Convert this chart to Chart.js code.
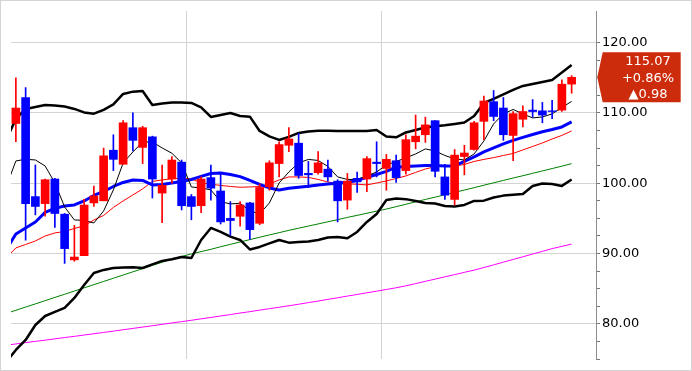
<!DOCTYPE html>
<html>
<head>
<meta charset="utf-8">
<script src="https://cdn.jsdelivr.net/npm/chart.js@4/dist/chart.umd.min.js"></script>
<style>
  html, body { margin: 0; padding: 0; background: #fff; }
  canvas { display: block; }
</style>
</head>
<body>
<canvas id="price-chart" width="692" height="371"></canvas>
<script>
// ============================================================
//  daily candles + bollinger band + moving averages
// ============================================================

// one leading slot (only the indicator lines, clipped at the left edge),
// 58 trading sessions, two empty slots before the price axis
const sessions = [
  'd00','d01','d02','d03','d04','d05','d06','d07','d08','d09',
  'd10','d11','d12','d13','d14','d15','d16','d17','d18','d19',
  'd20','d21','d22','d23','d24','d25','d26','d27','d28','d29',
  'd30','d31','d32','d33','d34','d35','d36','d37','d38','d39',
  'd40','d41','d42','d43','d44','d45','d46','d47','d48','d49',
  'd50','d51','d52','d53','d54','d55','d56','d57','d58','d59','d60'
];

const opens  = [108.5, 112.2, 98.1, 97.1, 100.6, 95.6, 89.1, 89.7, 97.2, 97.5, 104.7, 102.7, 107.9, 105.1, 106.6, 98.6, 100.6, 103.0, 98.1, 96.8, 100.8, 98.9, 95.0, 95.3, 97.2, 94.3, 99.5, 102.8, 105.4, 105.7, 101.4, 101.5, 102.0, 100.3, 97.6, 100.7, 100.6, 103.0, 102.1, 103.2, 101.8, 105.9, 106.9, 108.9, 100.9, 97.7, 103.8, 104.8, 108.8, 111.6, 110.7, 106.8, 109.1, 110.4, 110.3, 110.3, 110.4, 114.1];
const highs  = [115.0, 113.6, 102.6, 100.6, 100.7, 95.7, 94.0, 97.7, 99.6, 105.0, 106.9, 108.9, 110.0, 108.1, 106.7, 102.6, 103.8, 103.3, 98.4, 100.9, 102.6, 101.4, 97.4, 97.4, 97.3, 99.9, 103.2, 105.9, 107.9, 107.1, 103.1, 104.5, 103.3, 100.5, 101.4, 101.6, 103.8, 105.9, 104.1, 104.0, 106.9, 109.7, 109.4, 108.9, 102.7, 104.8, 105.4, 108.8, 112.4, 113.2, 112.2, 110.2, 111.0, 111.9, 111.5, 111.8, 114.7, 115.3];
const lows   = [105.9, 91.9, 95.5, 95.3, 93.7, 88.6, 88.9, 89.7, 96.7, 97.5, 101.8, 102.7, 104.6, 102.8, 97.9, 94.4, 100.0, 96.2, 94.8, 95.8, 97.6, 94.2, 92.6, 93.9, 92.0, 94.1, 99.0, 100.9, 104.5, 100.7, 99.4, 101.3, 100.3, 94.5, 96.3, 98.7, 98.8, 100.9, 99.0, 100.1, 101.3, 104.9, 105.8, 100.9, 97.7, 96.9, 101.2, 104.7, 106.2, 108.9, 106.1, 103.2, 108.0, 109.4, 108.6, 109.2, 110.2, 112.8];
const closes = [110.7, 97.1, 96.7, 100.5, 95.7, 90.7, 89.5, 96.9, 98.2, 103.9, 103.4, 108.6, 106.1, 107.9, 100.6, 99.7, 103.3, 96.8, 96.7, 100.6, 99.3, 94.5, 94.7, 96.9, 93.4, 99.4, 102.9, 105.5, 106.3, 101.1, 101.2, 102.9, 100.9, 97.5, 100.3, 100.2, 103.5, 102.8, 103.4, 100.8, 106.2, 106.7, 108.3, 101.7, 98.3, 104.0, 104.3, 108.6, 111.7, 109.5, 106.9, 109.9, 110.2, 110.2, 109.7, 110.2, 114.09, 115.07];

// indicator lines: first value sits in the leading slot
const bollUpper = [106.16, 109.15, 110.57, 110.85, 111.14, 111.07, 110.92, 110.57, 110.07, 109.90, 110.43, 111.21, 112.70, 113.03, 113.13, 111.14, 111.35, 111.49, 111.49, 111.42, 110.78, 109.43, 109.72, 110.00, 109.57, 109.47, 107.44, 106.66, 106.16, 106.59, 107.16, 107.37, 107.48, 107.47, 107.44, 107.44, 107.44, 107.44, 107.58, 106.66, 106.54, 107.23, 107.58, 107.94, 108.11, 108.25, 108.44, 108.65, 109.57, 111.42, 111.99, 112.63, 113.27, 113.84, 114.13, 114.41, 114.69, 115.76, 116.83];
const bollLower = [74.58, 76.29, 77.71, 79.84, 81.12, 81.69, 82.26, 83.68, 85.53, 87.24, 87.67, 87.95, 88.02, 88.05, 87.95, 88.45, 88.95, 89.19, 89.52, 89.37, 91.93, 93.64, 93.07, 92.40, 91.93, 90.58, 90.94, 91.44, 91.93, 91.55, 91.65, 91.72, 91.93, 92.29, 92.36, 92.18, 93.07, 94.49, 95.63, 97.62, 97.84, 97.74, 97.48, 97.20, 97.13, 96.77, 96.70, 96.91, 97.48, 97.52, 97.98, 98.24, 98.38, 98.48, 99.62, 99.97, 99.90, 99.62, 100.54];
const ma5   = [99.47, 103.17, 103.41, 103.31, 102.46, 100.04, 96.63, 94.78, 94.71, 94.35, 96.06, 99.05, 102.89, 104.45, 105.87, 105.87, 105.02, 104.27, 102.89, 99.47, 99.33, 99.05, 97.38, 97.06, 97.15, 96.06, 95.63, 97.20, 100.04, 101.61, 102.89, 103.39, 103.24, 102.39, 100.90, 100.54, 100.54, 101.04, 101.61, 102.60, 103.10, 103.60, 104.17, 104.88, 104.59, 103.95, 103.46, 103.31, 104.17, 106.02, 108.44, 109.86, 110.50, 109.86, 109.29, 109.43, 109.86, 110.78, 111.64];
const ma20  = [90.51, 92.79, 93.64, 94.49, 95.85, 96.42, 96.77, 96.91, 97.48, 98.26, 98.83, 99.54, 100.11, 100.47, 100.40, 99.76, 99.83, 100.04, 100.26, 100.54, 100.97, 101.39, 101.47, 101.25, 100.94, 100.40, 99.83, 99.33, 99.05, 99.30, 99.43, 99.57, 99.76, 99.90, 100.01, 100.14, 100.40, 100.85, 101.25, 101.68, 102.29, 102.39, 102.46, 102.53, 102.53, 102.46, 102.46, 103.10, 103.74, 104.45, 105.02, 105.59, 106.09, 106.52, 106.94, 107.33, 107.65, 108.01, 108.72];
const ma30  = [89.37, 90.80, 91.29, 91.79, 92.50, 92.93, 93.14, 93.57, 93.93, 94.78, 95.42, 96.56, 97.48, 98.34, 99.19, 100.26, 100.47, 100.65, 100.71, 100.61, 100.07, 99.86, 99.69, 99.54, 99.43, 99.47, 99.54, 99.90, 100.47, 100.90, 100.90, 100.83, 100.54, 100.18, 99.96, 99.90, 99.86, 99.76, 100.04, 100.33, 100.68, 101.04, 101.54, 102.03, 102.35, 102.43, 102.46, 102.67, 103.10, 103.39, 103.64, 103.95, 104.24, 104.74, 105.23, 105.73, 106.30, 106.80, 107.44];
const ma60  = [81.48, 81.93, 82.39, 82.84, 83.30, 83.76, 84.21, 84.67, 85.12, 85.58, 86.03, 86.49, 86.94, 87.40, 87.85, 88.31, 88.76, 89.23, 89.59, 89.94, 90.28, 90.60, 90.97, 91.31, 91.65, 91.98, 92.32, 92.65, 92.97, 93.30, 93.61, 93.91, 94.21, 94.52, 94.82, 95.14, 95.43, 95.73, 96.03, 96.33, 96.67, 97.01, 97.35, 97.70, 98.02, 98.36, 98.71, 99.03, 99.37, 99.72, 100.06, 100.40, 100.74, 101.07, 101.41, 101.75, 102.09, 102.43, 102.79];
const ma120 = [76.97, 77.14, 77.33, 77.51, 77.68, 77.87, 78.05, 78.22, 78.41, 78.59, 78.78, 78.96, 79.16, 79.35, 79.54, 79.73, 79.93, 80.13, 80.31, 80.51, 80.71, 80.91, 81.12, 81.32, 81.54, 81.73, 81.95, 82.16, 82.36, 82.57, 82.79, 83.02, 83.24, 83.48, 83.71, 83.95, 84.18, 84.42, 84.65, 84.89, 85.13, 85.41, 85.72, 86.05, 86.36, 86.69, 87.00, 87.33, 87.64, 88.01, 88.39, 88.78, 89.16, 89.54, 89.93, 90.31, 90.70, 91.02, 91.34];

const yTicks = [75, 77.5, 80, 82.5, 85, 87.5, 90, 92.5, 95, 97.5, 100, 102.5, 105, 107.5, 110, 112.5, 115, 117.5, 120];
const monthStarts = ['d19', 'd39'];   // first session of a new month

const UP = '#ff0000';
const DOWN = '#0000ff';
const FONT = '"DejaVu Sans", sans-serif';

const PriceChart = (() => {

  const bodies = [null, ...opens.map((o, i) => [o, closes[i]])];
  const wicks  = [null, ...lows.map((l, i) => [l, highs[i]])];

  function candleColor(ctx) {
    const i = ctx.dataIndex - 1;
    if (i < 0) return 'rgba(0,0,0,0)';
    return closes[i] >= opens[i] ? UP : DOWN;
  }

  function lineSet(label, data, color, width, order) {
    return {
      type: 'line', label, data, order,
      borderColor: color, borderWidth: width,
      borderJoinStyle: 'round',
      pointRadius: 0, tension: 0, fill: false,
    };
  }

  // white page with a thin frame
  const frame = {
    id: 'frame',
    beforeDraw(chart) {
      const { ctx } = chart;
      ctx.save();
      ctx.fillStyle = '#fff';
      ctx.fillRect(0, 0, chart.width, chart.height);
      ctx.restore();
    },
    afterDraw(chart) {
      const { ctx } = chart;
      ctx.save();
      ctx.strokeStyle = '#d4d4d4';
      ctx.lineWidth = 1;
      ctx.strokeRect(0.5, 0.5, chart.width - 1, chart.height - 1);
      ctx.restore();
    }
  };

  // last price tag on the price axis
  const priceTag = {
    id: 'priceTag',
    afterDraw(chart) {
      const y = chart.scales.y;
      const { ctx } = chart;
      const last = closes[closes.length - 1];
      const prev = closes[closes.length - 2];
      const diff = last - prev;
      const pct = diff / prev * 100;
      const py = y.getPixelForValue(last);
      const x0 = y.left + 1.3, x1 = y.left + 6.7, x2 = chart.width - 11.3, h = 25;

      ctx.save();
      ctx.fillStyle = '#cd2c0c';
      ctx.beginPath();
      ctx.moveTo(x0, py);
      ctx.lineTo(x1, py - h);
      ctx.lineTo(x2, py - h);
      ctx.lineTo(x2, py + h);
      ctx.lineTo(x1, py + h);
      ctx.closePath();
      ctx.fill();

      ctx.fillStyle = '#fff';
      ctx.font = '13px ' + FONT;
      ctx.textAlign = 'center';
      ctx.textBaseline = 'middle';
      const cx = y.left + 52;
      ctx.fillText(last.toFixed(2), cx, py - 15.5);
      ctx.fillText((pct >= 0 ? '+' : '') + pct.toFixed(2) + '%', cx, py + 1);
      ctx.fillText((diff >= 0 ? '\u25B2' : '\u25BC') + Math.abs(diff).toFixed(2), cx, py + 17.5);
      ctx.restore();
    }
  };

  function render() {
    const el = document.getElementById('price-chart');
    return new Chart(el, {
      type: 'bar',
      data: {
        labels: sessions,
        datasets: [
          {
            label: 'body', data: bodies, order: 0,
            backgroundColor: candleColor, borderWidth: 0,
            barThickness: 8, grouped: false,
          },
          {
            label: 'wick', data: wicks, order: 1,
            backgroundColor: candleColor, borderWidth: 0,
            barThickness: 1, grouped: false,
          },
          lineSet('MA5',   ma5,       '#000000', 1,   2),
          lineSet('upper', bollUpper, '#000000', 2.5, 3),
          lineSet('lower', bollLower, '#000000', 2.5, 3),
          lineSet('MA20',  ma20,      '#0000ff', 3,   4),
          lineSet('MA30',  ma30,      '#ff0000', 1,   5),
          lineSet('MA60',  ma60,      '#008000', 1,   6),
          lineSet('MA120', ma120,     '#ff00ff', 1,   7),
        ]
      },
      options: {
        responsive: false,
        devicePixelRatio: 1,
        animation: false,
        events: [],
        layout: { padding: { left: 11, top: 11, right: 0, bottom: 12 } },
        plugins: { legend: { display: false }, tooltip: { enabled: false } },
        scales: {
          x: {
            type: 'category',
            min: 1, max: sessions.length - 1,
            offset: true,
            border: { display: false },
            ticks: { display: false },
            grid: {
              offset: true,
              drawTicks: false,
              lineWidth: 1,
              color: ctx => (ctx.tick && monthStarts.includes(sessions[ctx.tick.value]))
                ? '#d3d3d3' : 'rgba(0,0,0,0)',
            },
            afterFit: s => { s.height = 0; },
          },
          y: {
            type: 'linear',
            position: 'right',
            min: 75, max: 124.5,
            afterBuildTicks: s => { s.ticks = yTicks.map(value => ({ value })); },
            afterFit: s => { s.width = 96; },
            border: { display: true, color: '#8c8c8c', width: 1 },
            grid: {
              color: ctx => (ctx.tick && ctx.tick.value % 10 === 0) ? '#d3d3d3' : 'rgba(0,0,0,0)',
              tickColor: '#777',
              tickLength: 4,
              lineWidth: 1,
            },
            ticks: {
              autoSkip: false,
              padding: 2,
              color: '#000',
              font: { family: FONT, size: 13 },
              callback: v => (v % 10 === 0 ? v.toFixed(2) : ''),
            }
          }
        }
      },
      plugins: [frame, priceTag]
    });
  }

  return { render };
})();

PriceChart.render();
</script>
</body>
</html>
